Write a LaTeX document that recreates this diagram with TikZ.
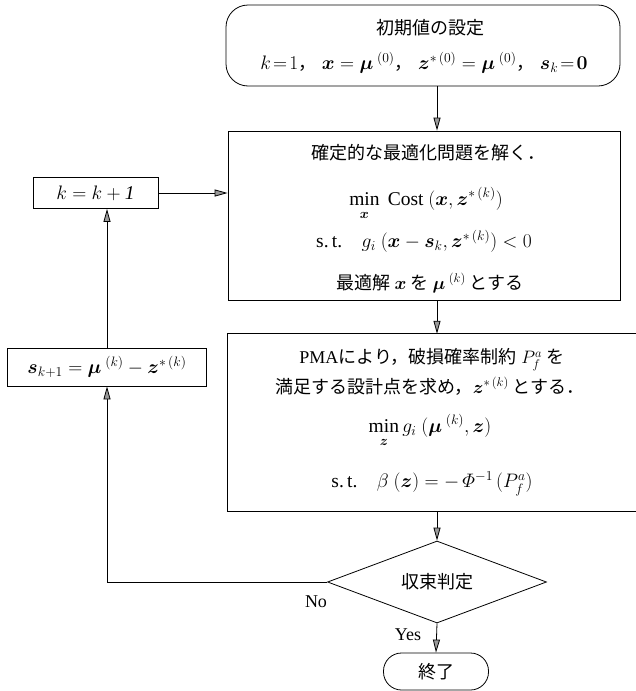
\RequirePackage{fix-cm}
\documentclass[tikz,border=0pt]{standalone}
\usepackage{amsmath,bm}
\usepackage{fontspec}
\setmainfont{Liberation Serif}
\newfontfamily\jp{Noto Sans CJK JP}
\usetikzlibrary{arrows.meta,shapes.geometric}
\tikzset{
  box/.style={draw,line width=0.8pt,inner sep=0pt},
  txt/.style={inner sep=0pt,font=\fontsize{18}{21}\selectfont},
  mtxt/.style={inner sep=0pt,font=\fontsize{19.5}{22}\selectfont},
  conn/.style={line width=0.8pt,-{Triangle[open,fill=gray!80,length=13pt,width=7pt]}},
  plain/.style={line width=0.8pt},
}
\newcommand{\jc}{{\jp\fontsize{18}{21}\selectfont ，}}
\begin{document}
\begin{tikzpicture}[x=1pt,y=-1pt]
\useasboundingbox (0,0) rectangle (636,691);
% boxes
\node[box,rounded corners=22pt,minimum width=394pt,minimum height=81pt] (init) at (423,45.5) {};
\node[box,minimum width=392pt,minimum height=169pt] (opt) at (424,215.5) {};
\node[inner sep=0pt,minimum width=392pt,minimum height=177pt] (pma) at (424,422.5) {};
\draw[plain] ([xshift=30pt]pma.north east) -- (pma.north west) -- (pma.south west) -- ([xshift=30pt]pma.south east);
\node[box,minimum width=125pt,minimum height=31pt] (kup) at (95.5,193) {};
\node[box,minimum width=199pt,minimum height=38pt] (sup) at (107,367) {};
\node[box,diamond,minimum width=219pt,minimum height=82pt] (conv) at (437,582) {};
\node[box,rounded corners=18pt,minimum width=105pt,minimum height=37pt] (fin) at (436,671.5) {};
% texts
\node[txt] (t1) at (430,28) {\jp 初期値の設定};
\node[mtxt] (t2) at (424,63) {$k\!=\!1$\jc\;$\bm{x}=\bm{\mu}^{\;(0)}$\jc\;$\bm{z}^{*\,(0)}=\bm{\mu}^{\;(0)}$\jc\;$\bm{s}_k\!=\!\bm{0}$};
\node[txt] (t3) at (428,153) {\jp 確定的な最適化問題を解く．};
\node[mtxt] (t4) at (426,204) {$\displaystyle\min_{\bm{x}}\ \mathrm{Cost}\ (\bm{x},\bm{z}^{*\,(k)})$};
\node[mtxt] (t5) at (424,241) {s.\,t.\quad $g_i\ (\bm{x}-\bm{s}_k,\bm{z}^{*\,(k)})<0$};
\node[txt] (t6) at (430,283) {\jp 最適解 $\bm{x}$ を $\bm{\mu}^{\;(k)}$ とする};
\node[txt] (t7) at (432,360) {PMA{\jp により，破損確率制約} $P_f^a$ {\jp を}};
\node[txt] (t8) at (430,386) {\jp 満足する設計点を求め，$\bm{z}^{*\,(k)}$ とする．};
\node[mtxt] (t9) at (430,431) {$\displaystyle\min_{\bm{z}} g_i\ (\bm{\mu}^{\;(k)},\bm{z})$};
\node[mtxt] (t10) at (432,484) {s.\,t.\quad $\beta\ (\bm{z})=-\,\varPhi^{-1}\,(P_f^a)$};
\node[mtxt] at (kup) {$k=k+\mathit{1}$};
\node[mtxt] at (sup) {$\bm{s}_{k+1}=\bm{\mu}^{\;(k)}-\bm{z}^{*\,(k)}$};
\node[txt] at (conv) {\jp 収束判定};
\node[txt] at (fin) {\jp 終了};
\node[txt] (no) at (316,602) {No};
\node[txt] (yes) at (408,635) {Yes};
% connectors
\draw[conn] (init.south -| conv) -- (opt.north -| conv);
\draw[conn] (kup.east) -- (kup.east -| opt.west);
\draw[conn] (opt.south -| conv) -- (pma.north -| conv);
\draw[conn] (pma.south -| conv) -- (conv.north);
\draw[conn] (conv.south) -- (fin.north);
\draw[conn] (conv.west) -| (sup.south);
\draw[conn] (sup.north) -- (kup.south -| sup.north);
\end{tikzpicture}
\end{document}
